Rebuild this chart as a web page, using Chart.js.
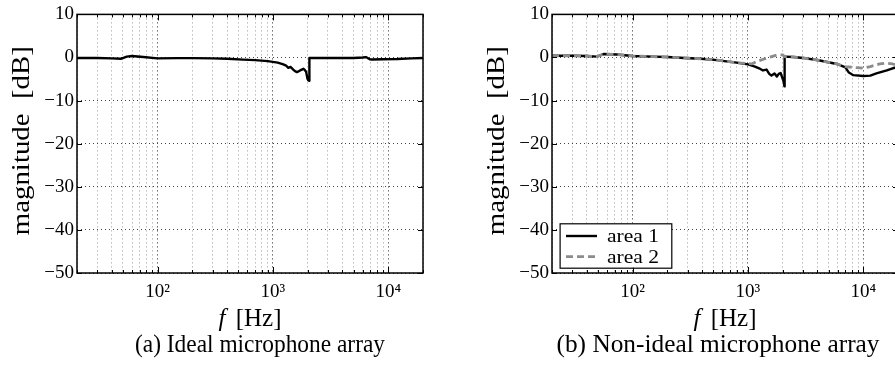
<!DOCTYPE html>
<html>
<head>
<meta charset="utf-8">
<script src="https://cdn.jsdelivr.net/npm/chart.js@4.4.1/dist/chart.umd.min.js"></script>
<style>
  html, body { margin: 0; padding: 0; width: 895px; height: 368px; overflow: hidden; background: #fff; }
  .panel { position: absolute; top: 0; height: 368px; overflow: hidden; }
  #panelA { left: 0; width: 445px; }
  #panelB { left: 450px; width: 445px; }
  canvas { display: block; }
</style>
</head>
<body>
<div class="panel" id="panelA"><canvas id="chartA" width="445" height="368"></canvas></div>
<div class="panel" id="panelB"><canvas id="chartB" width="460" height="368"></canvas></div>
<script>
// ---- measured frequency responses (Hz, dB) ----
const freqIdeal = [20, 30, 40, 48, 54, 60, 75, 100, 150, 200, 300, 400, 550, 700, 900, 1100, 1230, 1300, 1360, 1420, 1500, 1560, 1610, 1670, 1720, 1780, 1840, 1900, 1940, 1990, 2030, 2060, 2070, 2500, 3000, 4000, 5000, 6000, 6400, 6900, 7200, 9000, 12000, 16000, 20000];
const magIdeal  = [-0.1, -0.1, -0.2, -0.3, 0.2, 0.35, 0.1, -0.2, -0.15, -0.15, -0.2, -0.3, -0.5, -0.6, -0.85, -1.2, -1.6, -1.9, -2.4, -2.2, -2.8, -3.2, -3.4, -3.2, -3.0, -2.8, -2.6, -3.0, -3.3, -4.9, -5.3, -5.4, -0.1, -0.1, -0.1, -0.1, -0.1, 0.0, 0.1, -0.4, -0.45, -0.4, -0.35, -0.2, -0.1];

const freqArea1 = [20, 30, 40, 49, 56, 73, 100, 150, 200, 280, 390, 540, 650, 800, 1000, 1150, 1250, 1350, 1450, 1530, 1600, 1700, 1780, 1850, 1920, 1980, 2040, 2070, 2080, 2500, 3000, 4200, 5900, 7000, 7500, 8200, 10000, 11500, 13000, 16000, 18000, 20000];
const magArea1  = [0.4, 0.4, 0.35, 0.2, 0.8, 0.7, 0.35, 0.2, 0.1, -0.1, -0.3, -0.6, -0.9, -1.2, -1.6, -2.1, -2.5, -3.0, -2.8, -3.8, -4.2, -3.7, -4.4, -3.8, -3.6, -4.6, -5.6, -6.7, 0.2, 0.1, -0.1, -0.7, -1.5, -2.3, -3.5, -4.1, -4.3, -4.2, -3.7, -3.0, -2.5, -2.2];

const freqArea2 = [20, 30, 40, 49, 56, 73, 100, 150, 200, 280, 390, 540, 650, 800, 1000, 1080, 1200, 1400, 1600, 1800, 2000, 2080, 2500, 3000, 4200, 5900, 7000, 8200, 9400, 10000, 11500, 13900, 15900, 18000, 20000];
const magArea2  = [0.4, 0.4, 0.35, 0.2, 0.8, 0.7, 0.35, 0.2, 0.1, -0.1, -0.3, -0.6, -0.9, -1.2, -1.4, -1.5, -0.9, -0.3, 0.2, 0.6, 0.6, 0.2, 0.1, -0.1, -0.7, -1.5, -2.1, -2.3, -2.4, -2.5, -2.1, -1.5, -1.3, -1.5, -1.9];

// ---- axes ----
const freqMin = 20, freqMax = 20000;
const decadeTicks  = [100, 1000, 10000];
const decadeLabels = ['10\u00B2', '10\u00B3', '10\u2074'];
const magTicks = [10, 0, -10, -20, -30, -40, -50];
const seriesNames = ['area 1', 'area 2'];
const yTitle = 'magnitude  [dB]';
const captions = ['(a) Ideal microphone array', '(b) Non-ideal microphone array'];

// dotted grid at 1..9 x each decade inside the frequency range
const gridFreqs = [];
for (const d of [10, 100, 1000, 10000]) {
  for (let m = 1; m <= 9; m++) {
    const v = m * d;
    if (v >= freqMin && v <= freqMax) gridFreqs.push(v);
  }
}

const SERIF = '"Liberation Serif", "Times New Roman", serif';
const pts = (xs, ys) => xs.map((x, i) => ({ x, y: ys[i] }));

// text drawn at a fixed width (horizontal scale of the glyphs)
function fitText(ctx, txt, x, y, font, width, align) {
  ctx.save();
  ctx.font = font;
  const w = ctx.measureText(txt).width;
  const k = width ? width / w : 1;
  ctx.translate(x, y);
  ctx.scale(k, 1);
  ctx.textAlign = align || 'center';
  ctx.textBaseline = 'alphabetic';
  ctx.fillStyle = '#000';
  ctx.fillText(txt, 0, 0);
  ctx.restore();
}

// frame, inward ticks, axis titles, caption and legend box
const decor = {
  id: 'decor',
  afterDatasetsDraw(chart, args, opts) {
    const { ctx, chartArea: a } = chart;
    const xs = chart.scales.x, ys = chart.scales.y;
    ctx.save();
    ctx.strokeStyle = '#000';
    ctx.lineWidth = 1;
    ctx.beginPath();
    for (const v of magTicks) {
      const py = Math.round(ys.getPixelForValue(v)) + 0.5;
      ctx.moveTo(a.left, py); ctx.lineTo(a.left + 5, py);
      ctx.moveTo(a.right, py); ctx.lineTo(a.right - 5, py);
    }
    for (const v of gridFreqs) {
      const px = Math.round(xs.getPixelForValue(v)) + 0.5;
      const len = decadeTicks.includes(v) ? 6 : 3;
      ctx.moveTo(px, a.bottom); ctx.lineTo(px, a.bottom - len);
      ctx.moveTo(px, a.top); ctx.lineTo(px, a.top + len);
    }
    ctx.stroke();
    ctx.lineWidth = 1.5;
    ctx.strokeRect(a.left, a.top, a.right - a.left, a.bottom - a.top);
    ctx.restore();
  },
  afterDraw(chart, args, opts) {
    const { ctx, chartArea: a } = chart;
    // y axis title
    ctx.save();
    ctx.translate(a.left - 47.7, (a.top + a.bottom) / 2 - 3);
    ctx.rotate(-Math.PI / 2);
    fitText(ctx, yTitle, 0, 0, '25px ' + SERIF, 189, 'center');
    ctx.restore();

    // x axis title: italic f followed by the unit
    ctx.save();
    const fFont = 'italic 25px ' + SERIF, uFont = '25px ' + SERIF;
    ctx.font = fFont; const wf = ctx.measureText('f').width;
    ctx.font = uFont; const wu = ctx.measureText(' [Hz]').width;
    const cx = (a.left + a.right) / 2;
    const x0 = cx - (wf + wu) / 2 - 2;
    ctx.fillStyle = '#000'; ctx.textBaseline = 'alphabetic'; ctx.textAlign = 'left';
    ctx.font = fFont; ctx.fillText('f', x0, 326);
    ctx.font = uFont; ctx.fillText(' [Hz]', x0 + wf + 4, 326);
    ctx.restore();

    // caption
    fitText(ctx, opts.caption, opts.captionX, 352, '25px ' + SERIF, opts.captionWidth, 'center');

    // legend
    if (opts.legend) {
      const ds = chart.data.datasets;
      const bx = a.left + 7.6, by = a.bottom - 49.7, bw = 111.7, bh = 44.4;
      ctx.save();
      ctx.fillStyle = '#fff';
      ctx.fillRect(bx, by, bw, bh);
      ctx.strokeStyle = '#000'; ctx.lineWidth = 1.2;
      ctx.strokeRect(bx + 0.5, by + 0.5, bw, bh);
      const rows = [by + 12.7, by + 33.4];
      ds.forEach((d, i) => {
        ctx.save();
        ctx.strokeStyle = d.borderColor; ctx.lineWidth = d.borderWidth;
        ctx.setLineDash(d.borderDash || []);
        ctx.beginPath(); ctx.moveTo(bx + 6.4, rows[i]); ctx.lineTo(bx + 37.4, rows[i]); ctx.stroke();
        ctx.restore();
        fitText(ctx, d.label, bx + 47.4, rows[i] + 6, '19px ' + SERIF, 52, 'left');
      });
      ctx.restore();
    }
  }
};

function makeOptions(plotLeft, padRight, plugOpts) {
  return {
    responsive: false,
    animation: false,
    devicePixelRatio: 1,
    layout: { padding: { left: 0, right: padRight, top: 10, bottom: 0 } },
    plugins: {
      legend: { display: false },
      tooltip: { enabled: false },
      decor: plugOpts
    },
    elements: { line: { tension: 0, borderJoinStyle: 'round', borderCapStyle: 'butt' }, point: { radius: 0 } },
    scales: {
      x: {
        type: 'logarithmic',
        min: freqMin, max: freqMax,
        afterBuildTicks: (s) => { s.ticks = gridFreqs.map(v => ({ value: v })); },
        afterFit: (s) => { s.height = 95; },
        ticks: {
          autoSkip: false, maxRotation: 0, minRotation: 0, padding: 8,
          color: '#000', font: { family: SERIF, size: 19 },
          callback: (v) => { const i = decadeTicks.indexOf(v); return i >= 0 ? decadeLabels[i] : ''; }
        },
        grid: {
          drawTicks: false, lineWidth: 1,
          color: (c) => (c.tick && decadeTicks.includes(c.tick.value)) ? '#222' : '#999'
        },
        border: { display: false, dash: [1, 3] }
      },
      y: {
        type: 'linear',
        min: -50, max: 10,
        afterBuildTicks: (s) => { s.ticks = magTicks.map(v => ({ value: v })); },
        afterFit: (s) => { s.width = plotLeft; },
        ticks: {
          padding: 3, color: '#000', font: { family: SERIF, size: 19 },
          callback: (v) => v < 0 ? '\u2212' + Math.abs(v) : String(v)
        },
        grid: { drawTicks: false, lineWidth: 1, color: '#444' },
        border: { display: false, dash: [1, 3] }
      }
    }
  };
}

new Chart(document.getElementById('chartA'), {
  type: 'line',
  data: {
    datasets: [
      { label: 'ideal', data: pts(freqIdeal, magIdeal), borderColor: '#000', borderWidth: 2.4, fill: false }
    ]
  },
  options: makeOptions(77, 22, { caption: captions[0], captionX: 260, captionWidth: 250, legend: false }),
  plugins: [decor]
});

new Chart(document.getElementById('chartB'), {
  type: 'line',
  data: {
    datasets: [
      { label: seriesNames[0], data: pts(freqArea1, magArea1), borderColor: '#000', borderWidth: 2.4, fill: false, order: 1 },
      { label: seriesNames[1], data: pts(freqArea2, magArea2), borderColor: '#8c8c8c', borderWidth: 2.8, borderDash: [7, 4], fill: false, order: 0 }
    ]
  },
  options: makeOptions(102, 12, { caption: captions[1], captionX: 268, captionWidth: 323, legend: true }),
  plugins: [decor]
});
</script>
</body>
</html>
